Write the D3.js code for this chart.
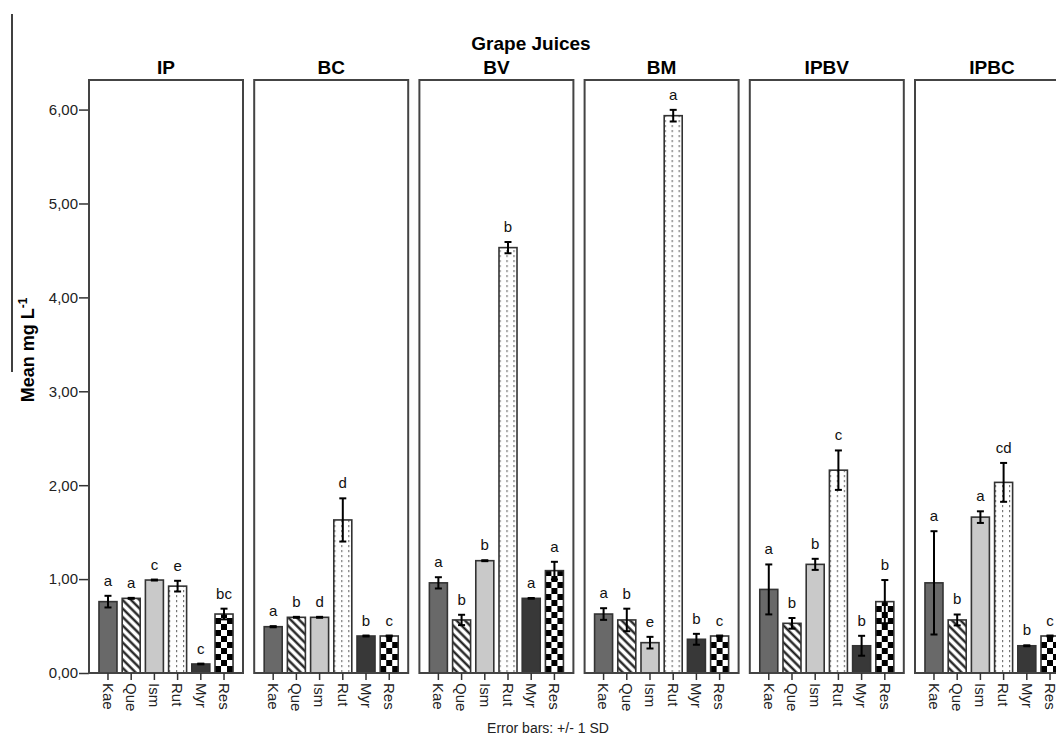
<!DOCTYPE html>
<html><head><meta charset="utf-8">
<script src="https://cdn.jsdelivr.net/npm/d3@7"></script>
<style>body{margin:0;background:#fff;}svg{display:block;font-family:"Liberation Sans",Arial,sans-serif;}</style>
</head><body>
<svg id="chart" width="1056" height="736"></svg>
<script>
const groups = ["IP","BC","BV","BM","IPBV","IPBC"];
const compounds = ["Kae","Que","Ism","Rut","Myr","Res"];
const yTicks = [0,1,2,3,4,5,6];
const means = {
  IP:   [0.76, 0.795, 0.99, 0.925, 0.096, 0.628],
  BC:   [0.493, 0.593, 0.593, 1.63, 0.394, 0.394],
  BV:   [0.96, 0.565, 1.196, 4.53, 0.795, 1.09],
  BM:   [0.628, 0.565, 0.323, 5.935, 0.359, 0.394],
  IPBV: [0.89, 0.529, 1.157, 2.16, 0.29, 0.76],
  IPBC: [0.96, 0.565, 1.66, 2.03, 0.29, 0.394]
};
const sds = {
  IP:   [0.062, 0.005, 0.005, 0.057, 0.004, 0.057],
  BC:   [0.006, 0.005, 0.005, 0.23, 0.005, 0.005],
  BV:   [0.06, 0.055, 0.005, 0.06, 0.004, 0.094],
  BM:   [0.062, 0.12, 0.062, 0.062, 0.058, 0.005],
  IPBV: [0.266, 0.057, 0.059, 0.21, 0.106, 0.23],
  IPBC: [0.55, 0.058, 0.062, 0.207, 0.005, 0.005]
};
const letters = {
  IP:   ["a","a","c","e","c","bc"],
  BC:   ["a","b","d","d","b","c"],
  BV:   ["a","b","b","b","a","a"],
  BM:   ["a","b","e","a","b","c"],
  IPBV: ["a","b","b","c","b","b"],
  IPBC: ["a","b","a","cd","b","c"]
};

const svg = d3.select("#chart");
const defs = svg.append("defs");
const ph = defs.append("pattern").attr("id","hatch").attr("patternUnits","userSpaceOnUse")
  .attr("width",6).attr("height",6).attr("patternTransform","rotate(-45)");
ph.append("rect").attr("width",6).attr("height",6).attr("fill","#fff");
ph.append("line").attr("x1",1.5).attr("y1",0).attr("x2",1.5).attr("y2",6).attr("stroke","#111").attr("stroke-width",2.2);
const pd = defs.append("pattern").attr("id","dots").attr("patternUnits","userSpaceOnUse")
  .attr("width",7).attr("height",5);
pd.append("rect").attr("width",7).attr("height",5).attr("fill","#fff");
pd.append("rect").attr("x",3).attr("y",0).attr("width",1.2).attr("height",2.2).attr("fill","#777");
const pc = defs.append("pattern").attr("id","checker").attr("patternUnits","userSpaceOnUse")
  .attr("width",12).attr("height",12);
pc.append("rect").attr("width",12).attr("height",12).attr("fill","#fff");
pc.append("rect").attr("x",0).attr("y",0).attr("width",6).attr("height",6).attr("fill","#000");
pc.append("rect").attr("x",6).attr("y",6).attr("width",6).attr("height",6).attr("fill","#000");

const fills = ["#696969","url(#hatch)","#c9c9c9","url(#dots)","#383838","url(#checker)"];

const yTop = 80, yBottom = 673;
const y = d3.scaleLinear().domain([0, 6.315]).range([yBottom, yTop]);
const panelW = 154, pitch = 165.2, left0 = 89;
const px = d3.scaleBand().domain(groups).range([left0, left0 + pitch*6]).paddingInner(0);
const x = d3.scaleBand().domain(compounds).range([0, panelW]).paddingInner(0.224).paddingOuter(0.43);

svg.append("text").attr("x",531).attr("y",50).attr("text-anchor","middle")
  .attr("font-weight","bold").attr("font-size",19).text("Grape Juices");

svg.append("line").attr("x1",12).attr("x2",12).attr("y1",14).attr("y2",372).attr("stroke","#000").attr("stroke-width",1.5);

const yl = svg.append("text").attr("transform","translate(34,350) rotate(-90)").attr("text-anchor","middle")
  .attr("font-weight","bold").attr("font-size",18);
yl.append("tspan").text("Mean mg L");
yl.append("tspan").attr("dy",-7).attr("font-size",12).text("-1");

const yAxis = d3.axisLeft(y).tickValues(yTicks).tickSize(10).tickFormat(d => d3.format(".2f")(d).replace(".",","));
const ya = svg.append("g").attr("transform",`translate(${left0},0)`).call(yAxis);
ya.select(".domain").remove();
ya.selectAll(".tick line").attr("stroke","#333").attr("stroke-width",1.5);
ya.selectAll(".tick text").attr("font-size",15).attr("fill","#222").attr("x",-11).attr("font-family","Liberation Sans, Arial, sans-serif");

groups.forEach(g => {
  const gp = svg.append("g").attr("transform",`translate(${px(g)},0)`);
  gp.append("text").attr("x",panelW/2).attr("y",yTop-6).attr("text-anchor","middle")
    .attr("font-weight","bold").attr("font-size",19).text(g);
  const data = compounds.map((c,i)=>({c, m:means[g][i], s:sds[g][i], l:letters[g][i], f:fills[i]}));
  gp.selectAll("rect.bar").data(data).join("rect").attr("class","bar")
    .attr("x", d=>x(d.c)).attr("width", x.bandwidth())
    .attr("y", d=>y(d.m)).attr("height", d=>yBottom - y(d.m))
    .attr("fill", d=>d.f).attr("stroke","#333").attr("stroke-width",1.6);
  const eb = gp.selectAll("g.eb").data(data).join("g").attr("class","eb");
  eb.append("line").attr("x1",d=>x(d.c)+x.bandwidth()/2).attr("x2",d=>x(d.c)+x.bandwidth()/2)
    .attr("y1",d=>y(d.m+d.s)).attr("y2",d=>y(d.m-d.s)).attr("stroke","#000").attr("stroke-width",2);
  [d=>y(d.m+d.s), d=>y(d.m-d.s)].forEach(fy => {
    eb.append("line").attr("x1",d=>x(d.c)+x.bandwidth()/2-3.5).attr("x2",d=>x(d.c)+x.bandwidth()/2+3.5)
      .attr("y1",fy).attr("y2",fy).attr("stroke","#000").attr("stroke-width",2);
  });
  gp.selectAll("text.let").data(data).join("text").attr("class","let")
    .attr("x",d=>x(d.c)+x.bandwidth()/2).attr("y",d=>y(d.m+d.s)-10).attr("text-anchor","middle")
    .attr("font-size",15).attr("fill","#111").text(d=>d.l);
  gp.append("rect").attr("x",0).attr("y",yTop).attr("width",panelW).attr("height",yBottom-yTop)
    .attr("fill","none").attr("stroke","#444").attr("stroke-width",2);
  const xa = gp.append("g").attr("transform",`translate(0,${yBottom})`)
    .call(d3.axisBottom(x).tickSize(7).tickPadding(4));
  xa.select(".domain").remove();
  xa.selectAll(".tick line").attr("stroke","#333").attr("stroke-width",1.5);
  xa.selectAll(".tick text").attr("font-size",15).attr("fill","#222")
    .attr("font-family","Liberation Sans, Arial, sans-serif")
    .attr("transform","rotate(90)").attr("text-anchor","start").attr("dy","0.35em").attr("x",10).attr("y",0);
});

svg.append("text").attr("x",548).attr("y",733).attr("text-anchor","middle")
  .attr("font-size",14).attr("fill","#222").text("Error bars: +/- 1 SD");
</script>
</body></html>
